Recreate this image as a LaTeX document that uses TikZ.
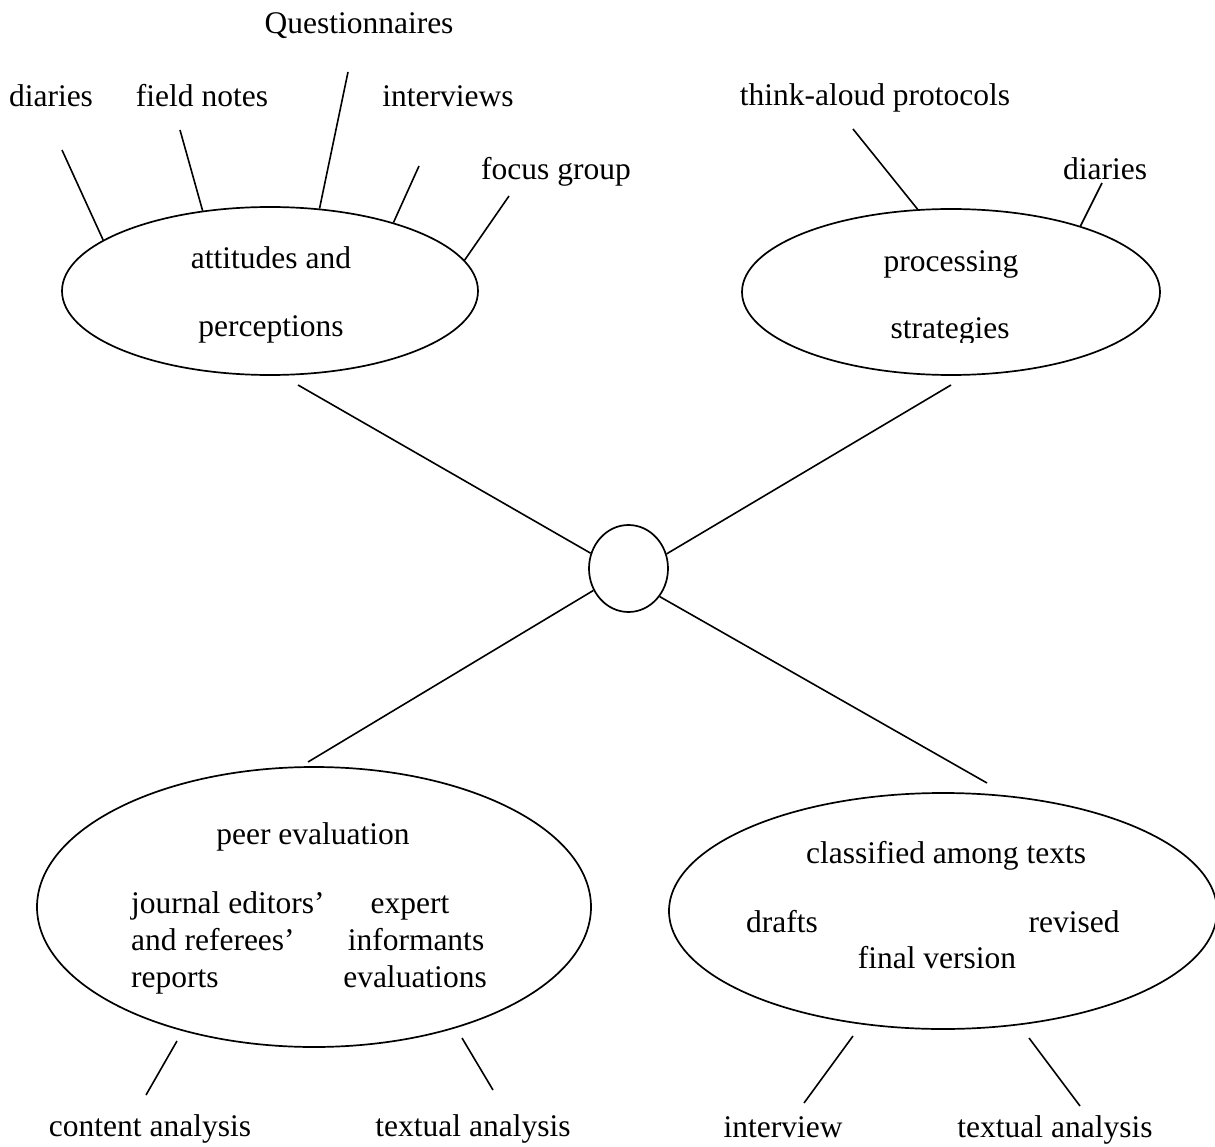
\documentclass[tikz,border=0pt]{standalone}
\usepackage{fontspec}
\setmainfont{Liberation Serif}
\usetikzlibrary{shapes.geometric}
\begin{document}
\begin{tikzpicture}[x=1pt,y=-1pt,
  every node/.style={font=\fontsize{31.5}{37}\selectfont},
  lbl/.style={anchor=base,inner sep=0pt},
  lblw/.style={anchor=base west,inner sep=0pt},
  oval/.style={draw,ellipse,inner sep=0pt,line width=1.7pt},
  link/.style={line width=1.6pt}]
\clip (0,0) rectangle (1215,1147);

% ---- central hub
\node[oval,minimum width=79pt,minimum height=87pt] (hub) at (628.5,568.5) {};

% ---- upper left: attitudes and perceptions
\node[oval,minimum width=416pt,minimum height=168pt] (att) at (270,291) {};
\node[lbl] (att1) at (271,269) {attitudes and};
\node[lbl] (att2) at (271,337) {perceptions};

\node[lbl] (qst)  at (359,34)  {Questionnaires};
\node[lbl] (dia1) at (51,107)  {diaries};
\node[lbl] (fld)  at (202,107) {field notes};
\node[lbl] (itv)  at (448,107) {interviews};
\node[lbl] (fcs)  at (556,180) {focus group};

\coordinate (dia1e) at (62,150);
\coordinate (flde)  at (180,130);
\coordinate (qste)  at (348,72);
\coordinate (itve)  at (419,166);
\coordinate (fcse)  at (509,196);
\draw[link] (dia1e) -- (att.163.7);
\draw[link] (flde)  -- (att.130.6);
\draw[link] (qste)  -- (att.59);
\draw[link] (itve)  -- (att.29.1);
\draw[link] (fcse)  -- (att.9.3);

% ---- upper right: processing strategies
\node[oval,minimum width=418pt,minimum height=166pt] (prc) at (951,292) {};
\node[lbl] (prc1) at (951,272) {processing};
\begin{scope}
  \clip (742,200) rectangle (1159,343);
  \node[lbl] (prc2) at (950,339) {strategies};
\end{scope}

\node[lbl] (tap)  at (875,106) {think-aloud protocols};
\node[lbl] (dia2) at (1105,180) {diaries};
\coordinate (tape)  at (853,129);
\coordinate (dia2e) at (1102,183);
\draw[link] (tape)  -- (prc.112);
\draw[link] (dia2e) -- (prc.27.3);

% ---- lower left: peer evaluation
\node[oval,minimum width=554pt,minimum height=280pt] (peer) at (314,907) {};
\node[lbl]  (peer0) at (313,844) {peer evaluation};
\node[lblw] (jr1) at (131,913) {journal editors’};
\node[lblw] (jr2) at (131,950) {and referees’};
\node[lblw] (jr3) at (131,987) {reports};
\node[lbl]  (ex1) at (410,913) {expert};
\node[lbl]  (ex2) at (416,950) {informants};
\node[lbl]  (ex3) at (415,987) {evaluations};

\node[lbl] (cna)  at (150,1136) {content analysis};
\node[lbl] (txa1) at (473,1136) {textual analysis};
\coordinate (cnat) at (177,1041);
\coordinate (cnab) at (146,1095);
\coordinate (txat) at (462,1038);
\coordinate (txab) at (493,1090);
\draw[link] (cnat) -- (cnab);
\draw[link] (txat) -- (txab);

% ---- lower right: classified among texts
\node[oval,minimum width=548pt,minimum height=236pt] (cls) at (943,911) {};
\node[lbl] (cls0) at (946,863) {classified among texts};
\node[lbl] (drf)  at (782,932) {drafts};
\node[lbl] (rev)  at (1074,932) {revised};
\node[lbl] (fin)  at (937,968) {final version};

\node[lbl] (int)  at (783,1137) {interview};
\node[lbl] (txa2) at (1055,1137) {textual analysis};
\coordinate (intt) at (853,1036);
\coordinate (intb) at (804,1103);
\coordinate (tx2t) at (1029,1038);
\coordinate (tx2b) at (1080,1106);
\draw[link] (intt) -- (intb);
\draw[link] (tx2t) -- (tx2b);

% ---- spokes to the hub
\coordinate (attb) at (298,385);
\coordinate (prcb) at (951,385);
\coordinate (peert) at (308,762);
\coordinate (clst) at (987,783);
\draw[link] (attb) -- (hub.158.6);
\draw[link] (prcb) -- (hub.21);
\draw[link] (peert) -- (hub.212.8);
\draw[link] (clst) -- (hub.318);
\end{tikzpicture}
\end{document}
